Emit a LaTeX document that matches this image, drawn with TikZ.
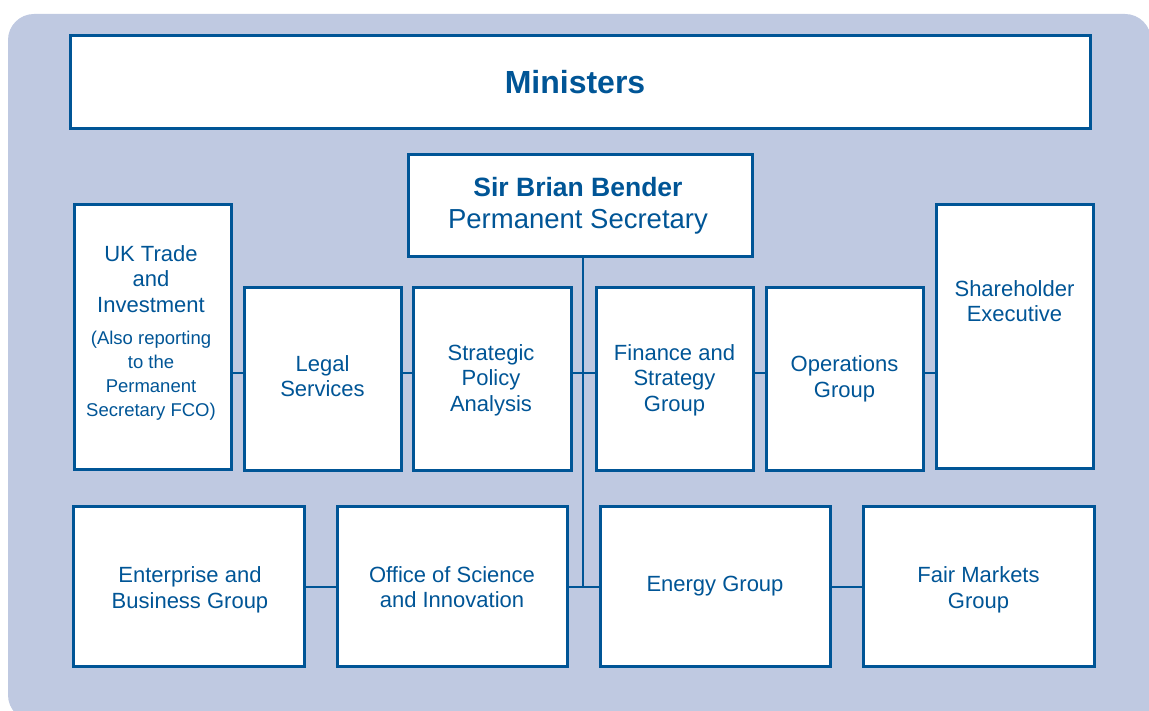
\documentclass[tikz,border=0pt]{standalone}
\usepackage{fontspec}
\setmainfont{Liberation Sans}
\definecolor{deptblue}{RGB}{0,85,150}
\definecolor{panel}{RGB}{191,201,225}
\begin{document}
\begin{tikzpicture}[x=1pt,y=-1pt,
  unitbox/.style={rectangle,draw=deptblue,fill=white,line width=3pt,
    inner sep=0pt,outer sep=0pt},
  unittext/.style={text=deptblue,align=center,inner sep=0pt,
    font=\fontsize{22}{25.5}\selectfont},
  notetext/.style={text=deptblue,align=center,inner sep=0pt,
    font=\fontsize{18.5}{24}\selectfont},
  link/.style={draw=deptblue,line width=2.6pt}]
\useasboundingbox (0,0) rectangle (1149,711);
\clip (0,0) rectangle (1149,711);
% panel behind the chart: rounded at three corners, square at the lower right
\fill[panel,rounded corners=26pt] (8,14) rectangle (1151,721);
\fill[panel] (1100,660) rectangle (1151,721);

% ministers and permanent secretary
\node[unitbox,minimum width=1020pt,minimum height=93pt] (ministers) at (580.75,82.5) {};
\node[text=deptblue,inner sep=0pt,font=\fontsize{32}{36}\selectfont\bfseries] (ministerslbl) at (575,82) {Ministers};
\node[unitbox,minimum width=344pt,minimum height=102pt] (perm) at (580,206) {};
\node[text=deptblue,align=center,inner sep=0pt,font=\fontsize{27.5}{32}\selectfont] (permlbl) at (578,206)
  {{\fontsize{26.5}{32}\selectfont\bfseries Sir Brian Bender}\\Permanent Secretary};

% junction points on the trunk
\coordinate (hub) at (583,373);
\coordinate (hubb) at (583,587);

% upper row
\node[unitbox,minimum width=157pt,minimum height=264pt] (ukti) at (152.5,337) {};
\node[unittext] (uktilbl) at (151,279) {UK Trade\\and\\Investment};
\node[notetext] (uktinote) at (151,376) {(Also reporting\\to the\\Permanent\\Secretary FCO)};

\node[unitbox,minimum width=157pt,minimum height=182pt] (legal) at (322.5,379) {};
\node[unittext] (legallbl) at (322.5,376) {Legal\\Services};

\node[unitbox,minimum width=158pt,minimum height=182pt] (spa) at (492,379) {};
\node[unittext] (spalbl) at (491,380) {Strategic\\Policy\\Analysis};

\node[unitbox,minimum width=157pt,minimum height=182pt] (fsg) at (674.5,379) {};
\node[unittext] (fsglbl) at (674.5,380) {Finance and\\Strategy\\Group};

\node[unitbox,minimum width=157pt,minimum height=182pt] (ops) at (844.5,379) {};
\node[unittext] (opslbl) at (844.5,379) {Operations\\Group};

\node[unitbox,minimum width=157pt,minimum height=263pt] (she) at (1014.5,336.5) {};
\node[unittext] (shelbl) at (1014.5,301) {Shareholder\\Executive};

% lower row
\node[unitbox,minimum width=231pt,minimum height=160pt] (ebg) at (188.5,586) {};
\node[unittext] (ebglbl) at (190,590) {Enterprise and\\Business Group};

\node[unitbox,minimum width=230pt,minimum height=160pt] (osi) at (452,586) {};
\node[unittext] (osilbl) at (452,587) {Office of Science\\and Innovation};

\node[unitbox,minimum width=230pt,minimum height=160pt] (energy) at (715,586) {};
\node[unittext] (energylbl) at (715,586) {Energy Group};

\node[unitbox,minimum width=231pt,minimum height=160pt] (fmg) at (978.5,586) {};
\node[unittext] (fmglbl) at (978.5,590) {Fair Markets\\Group};

% connectors
\draw[link] (perm.south -| hub) -- (hubb);
\draw[link] (ukti.east |- hub) -- (legal.west |- hub);
\draw[link] (legal.east |- hub) -- (spa.west |- hub);
\draw[link] (spa.east |- hub) -- (fsg.west |- hub);
\draw[link] (fsg.east |- hub) -- (ops.west |- hub);
\draw[link] (ops.east |- hub) -- (she.west |- hub);
\draw[link] (ebg.east |- hubb) -- (osi.west |- hubb);
\draw[link] (osi.east |- hubb) -- (energy.west |- hubb);
\draw[link] (energy.east |- hubb) -- (fmg.west |- hubb);
\end{tikzpicture}
\end{document}
